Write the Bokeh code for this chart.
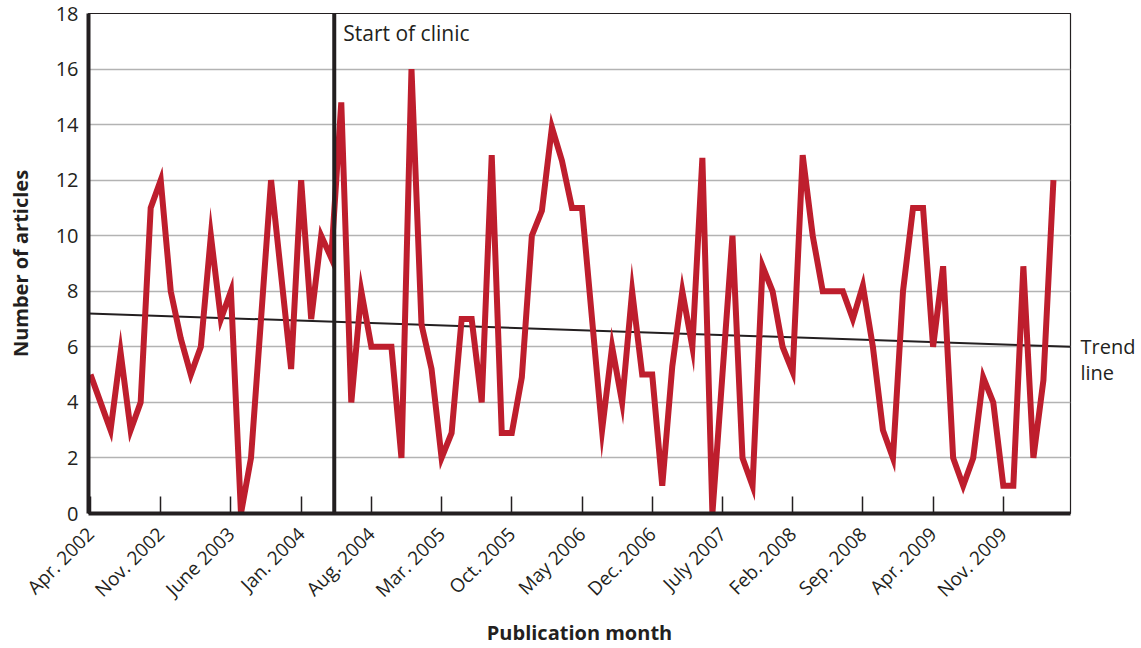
import math
from bokeh.plotting import figure
from bokeh.layouts import row
from bokeh.models import Range1d, FixedTicker, Span, Label
from bokeh.embed import file_html
from bokeh.resources import INLINE

# Monthly article counts, Apr. 2002 onwards
counts = [5, 4, 3, 5.8, 3, 4, 11, 12, 8, 6.3,
          5, 6, 10, 7, 8, 0, 2, 7, 12, 8.6,
          5.2, 12, 7, 10, 9.2, 14.8, 4, 8, 6, 6,
          6, 2, 16, 6.8, 5.2, 2, 2.9, 7, 7, 4,
          12.9, 2.9, 2.9, 4.9, 10, 10.9, 13.9, 12.7, 11, 11,
          7, 3, 6, 4, 8, 5, 5, 1, 5.3, 8,
          6, 12.8, 0, 5, 10, 2, 1, 8.9, 8, 6,
          5.1, 12.9, 10, 8, 8, 8, 7, 8.2, 6, 3,
          2, 8, 11, 11, 6, 8.9, 2, 1, 2, 4.9,
          4, 1, 1, 8.9, 2, 4.8, 12]

tick_labels = ["Apr. 2002", "Nov. 2002", "June 2003", "Jan. 2004", "Aug. 2004",
               "Mar. 2005", "Oct. 2005", "May 2006", "Dec. 2006", "July 2007",
               "Feb. 2008", "Sep. 2008", "Apr. 2009", "Nov. 2009"]
tick_step = 7
y_ticks = [0, 2, 4, 6, 8, 10, 12, 14, 16, 18]

trend_start, trend_end = 7.2, 6.0
clinic_month = 24.3
x_lo, x_hi = -0.2, 97.7

FONT = "Open Sans"
DARK = "#231f20"
RED = "#be1e2d"

months = list(range(len(counts)))
tick_pos = [tick_step * k for k in range(len(tick_labels))]

TOP, BOTTOM = 13, 134

p = figure(width=1072, height=648, x_range=Range1d(x_lo, x_hi), y_range=Range1d(0, 18),
           output_backend="svg", toolbar_location=None,
           min_border_left=88, min_border_right=2, min_border_top=TOP, min_border_bottom=BOTTOM)
p.background_fill_color = "white"
p.border_fill_color = "white"
p.outline_line_color = DARK
p.outline_line_width = 1.2

p.xgrid.visible = False
p.ygrid.ticker = FixedTicker(ticks=y_ticks[1:-1])
p.ygrid.grid_line_color = "#b3b3b3"
p.ygrid.grid_line_width = 1.6

# y axis
yax = p.yaxis[0]
yax.ticker = FixedTicker(ticks=y_ticks)
yax.major_tick_in = 0
yax.major_tick_out = 0
yax.minor_tick_in = 0
yax.minor_tick_out = 0
yax.axis_line_width = 4
yax.axis_line_color = DARK
yax.major_label_text_font = FONT
yax.major_label_text_font_size = "20px"
yax.major_label_text_color = DARK
yax.major_label_standoff = 10
yax.axis_label = "Number of articles"
yax.axis_label_text_font = FONT
yax.axis_label_text_font_style = "bold"
yax.axis_label_text_font_size = "20px"
yax.axis_label_text_color = DARK
yax.axis_label_standoff = 19

# x axis
xax = p.xaxis[0]
xax.ticker = FixedTicker(ticks=tick_pos)
xax.major_label_overrides = {pos: lab for pos, lab in zip(tick_pos, tick_labels)}
xax.major_label_orientation = math.pi / 4
xax.major_tick_in = 17
xax.major_tick_out = 0
xax.minor_tick_in = 0
xax.minor_tick_out = 0
xax.major_tick_line_color = DARK
xax.major_tick_line_width = 1.5
xax.axis_line_width = 4
xax.axis_line_color = DARK
xax.major_label_text_font = FONT
xax.major_label_text_font_size = "19px"
xax.major_label_text_color = DARK
xax.major_label_standoff = 17
xax.axis_label = "Publication month"
xax.axis_label_text_font = FONT
xax.axis_label_text_font_style = "bold"
xax.axis_label_text_font_size = "20px"
xax.axis_label_text_color = DARK
xax.axis_label_standoff = 4

# trend line
p.line([x_lo, x_hi], [trend_start, trend_end], line_color=DARK, line_width=2)
# data line
p.line(months, counts, line_color=RED, line_width=6, line_join="miter")

# start of clinic
p.add_layout(Span(location=clinic_month, dimension="height", line_color=DARK, line_width=4))
p.add_layout(Label(x=clinic_month, y=17.3, x_offset=9, text="Start of clinic",
                   text_font=FONT, text_font_size="21px", text_color=DARK,
                   text_baseline="middle"))

# side panel carrying the "Trend line" note, sharing the y scale
side = figure(width=1141 - 1072, height=648, x_range=Range1d(0, 1), y_range=p.y_range,
              output_backend="svg", toolbar_location=None,
              min_border_left=0, min_border_right=0, min_border_top=TOP, min_border_bottom=BOTTOM)
side.axis.visible = False
side.grid.visible = False
side.outline_line_color = None
side.background_fill_color = "white"
side.border_fill_color = "white"
side.add_layout(Label(x=0, y=trend_end, x_offset=8, text="Trend",
                      text_font=FONT, text_font_size="20px", text_color=DARK,
                      text_baseline="middle"))
side.add_layout(Label(x=0, y=trend_end - 0.93, x_offset=8, text="line",
                      text_font=FONT, text_font_size="20px", text_color=DARK,
                      text_baseline="middle"))

layout = row(p, side)
open("out.html", "w").write(file_html(layout, INLINE))
